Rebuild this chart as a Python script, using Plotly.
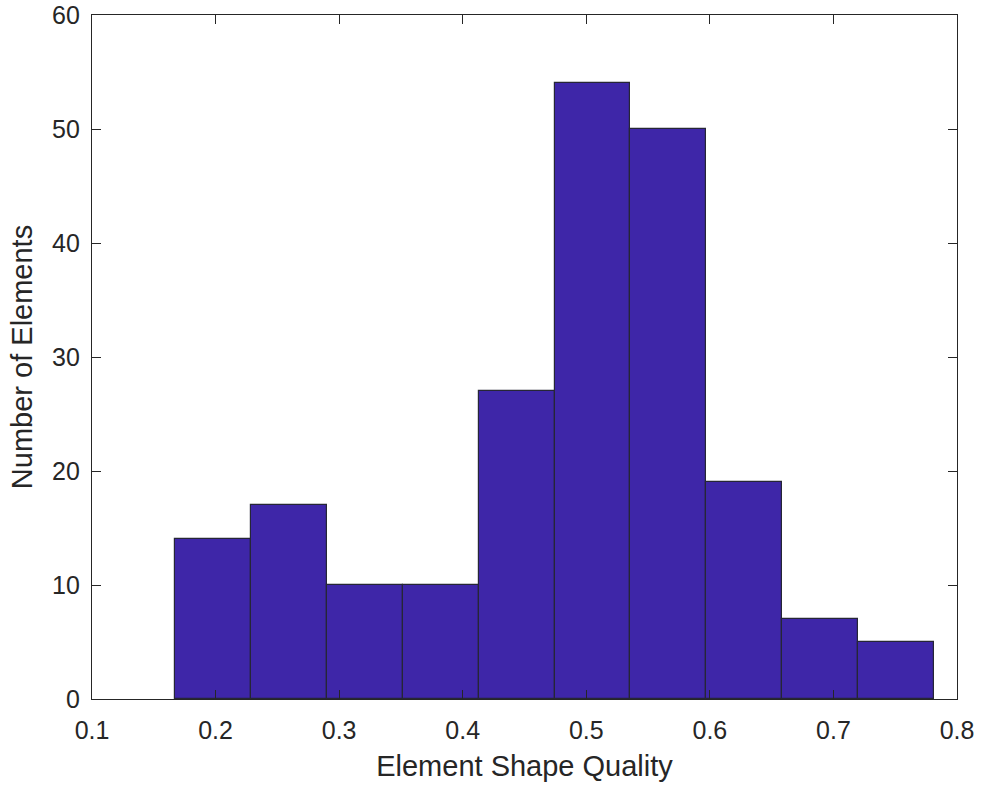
import plotly.graph_objects as go

# Histogram bin edges (Element Shape Quality) and counts
bin_edges = [0.1672, 0.2286, 0.2900, 0.3515, 0.4129, 0.4743, 0.5357, 0.5971, 0.6586, 0.7200, 0.7814]
counts = [14, 17, 10, 10, 27, 54, 50, 19, 7, 5]

x_ticks = [0.1, 0.2, 0.3, 0.4, 0.5, 0.6, 0.7, 0.8]
y_ticks = [0, 10, 20, 30, 40, 50, 60]

centers = [(a + b) / 2 for a, b in zip(bin_edges[:-1], bin_edges[1:])]
widths = [b - a for a, b in zip(bin_edges[:-1], bin_edges[1:])]

txt = "#262626"
font_family = "Arial, Liberation Sans, Helvetica, sans-serif"

fig = go.Figure(
    go.Bar(
        x=centers,
        y=counts,
        width=widths,
        marker=dict(color="rgb(62,38,168)", line=dict(color="#262636", width=1.2)),
        hoverinfo="x+y",
    )
)

axis_common = dict(
    showline=True,
    linecolor=txt,
    linewidth=1.3,
    mirror="ticks",
    ticks="inside",
    ticklen=9,
    tickwidth=1,
    tickcolor=txt,
    showgrid=False,
    zeroline=False,
    automargin=False,
    tickfont=dict(family=font_family, size=25, color=txt),
)

fig.update_xaxes(
    range=[0.1, 0.8],
    tickvals=x_ticks,
    ticktext=[f"{v:.1f}" for v in x_ticks],
    title=dict(text="Element Shape Quality", font=dict(family=font_family, size=29, color=txt), standoff=12),
    ticklabelstandoff=9,
    **axis_common,
)
fig.update_yaxes(
    range=[0, 60],
    tickvals=y_ticks,
    title=dict(text="Number of Elements", font=dict(family=font_family, size=29, color=txt), standoff=10),
    ticklabelstandoff=6,
    **axis_common,
)

fig.update_layout(
    width=982,
    height=786,
    margin=dict(l=92, r=25, t=15, b=87),
    plot_bgcolor="white",
    paper_bgcolor="white",
    showlegend=False,
    bargap=0,
)

fig.write_html(
    "out.html",
    config={"displayModeBar": False},
    post_script="document.body.style.margin='0';document.body.style.overflow='hidden';",
)
